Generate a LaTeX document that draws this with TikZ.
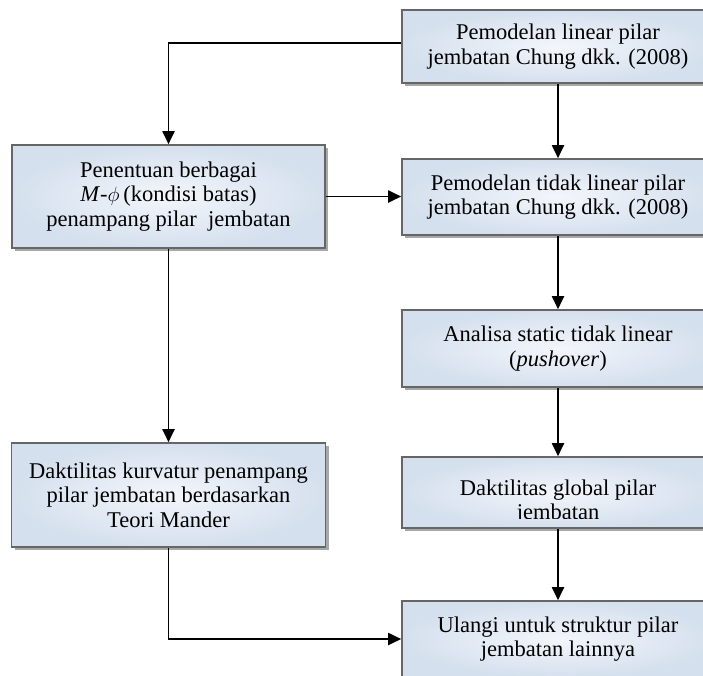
\documentclass[tikz,border=0pt]{standalone}
\usepackage{fontspec}
\setmainfont{Liberation Serif}
\usetikzlibrary{arrows.meta,shadows}
\definecolor{boxline}{HTML}{666666}
\definecolor{shadowgray}{HTML}{A8A8A8}
\definecolor{boxout}{HTML}{D5E0EE}
\definecolor{boxin}{HTML}{F3F6FB}
\begin{document}
\begin{tikzpicture}[x=1pt,y=-1pt,
  box/.style={draw=boxline, line width=1.6pt, inner color=boxin, outer color=boxout,
    drop shadow={shadow xshift=3pt,shadow yshift=-3pt,fill=shadowgray,opacity=1},
    align=center, font=\fontsize{22.5}{24.5}\selectfont, inner sep=0pt},
  txt/.style={align=center, font=\fontsize{22.5}{24.5}\selectfont, inner sep=0pt},
  conn/.style={line width=1.9pt, -{Triangle[width=12pt,length=13pt]}}]
\useasboundingbox (0,0) rectangle (703,675);
\clip (0,0) rectangle (703,675);
% right column
\node[box, minimum width=312pt, minimum height=73pt] (r1) at (558,46.5)
  {Pemodelan linear pilar\\jembatan Chung dkk. (2008)};
\node[box, minimum width=312pt, minimum height=76pt] (r2) at (558,197)
  {Pemodelan tidak linear pilar\\jembatan Chung dkk. (2008)};
\node[box, minimum width=312pt, minimum height=77pt] (r3) at (558,348.5)
  {Analisa static tidak linear\\(\textit{pushover})};
\node[box, minimum width=312pt, minimum height=71pt] (r4) at (558,492.5) {};
\begin{scope}
  \clip (402,457.7) rectangle (714,518);
  \node[txt, anchor=north] (r4t) at (558,479.5) {Daktilitas global pilar\\jembatan};
\end{scope}
\node[box, minimum width=312pt, minimum height=76pt] (r5) at (558,639)
  {Ulangi untuk struktur pilar\\jembatan lainnya};
% left column
\node[box, minimum width=313pt, minimum height=103pt] (A) at (168.5,196.5)
  {Penentuan berbagai\\\textit{M}-$\phi$\,(kondisi batas)\\penampang pilar~~jembatan};
\node[box, minimum width=314pt, minimum height=104pt] (B) at (168.5,495)
  {Daktilitas kurvatur penampang\\pilar jembatan berdasarkan\\Teori Mander};
% connectors
\draw[conn] ([yshift=3.5pt]r1.west) -| (A.north);
\draw[conn] (r1) -- (r2);
\draw[conn] (A.east) -- (A.east -| r2.west);
\draw[conn] (r2) -- (r3);
\draw[conn] (r3) -- (r4);
\draw[conn] (r4) -- (r5);
\draw[conn] (A.south) -- (A.south |- B.north);
\draw[conn] (B.south) |- (r5.west);
\end{tikzpicture}
\end{document}
